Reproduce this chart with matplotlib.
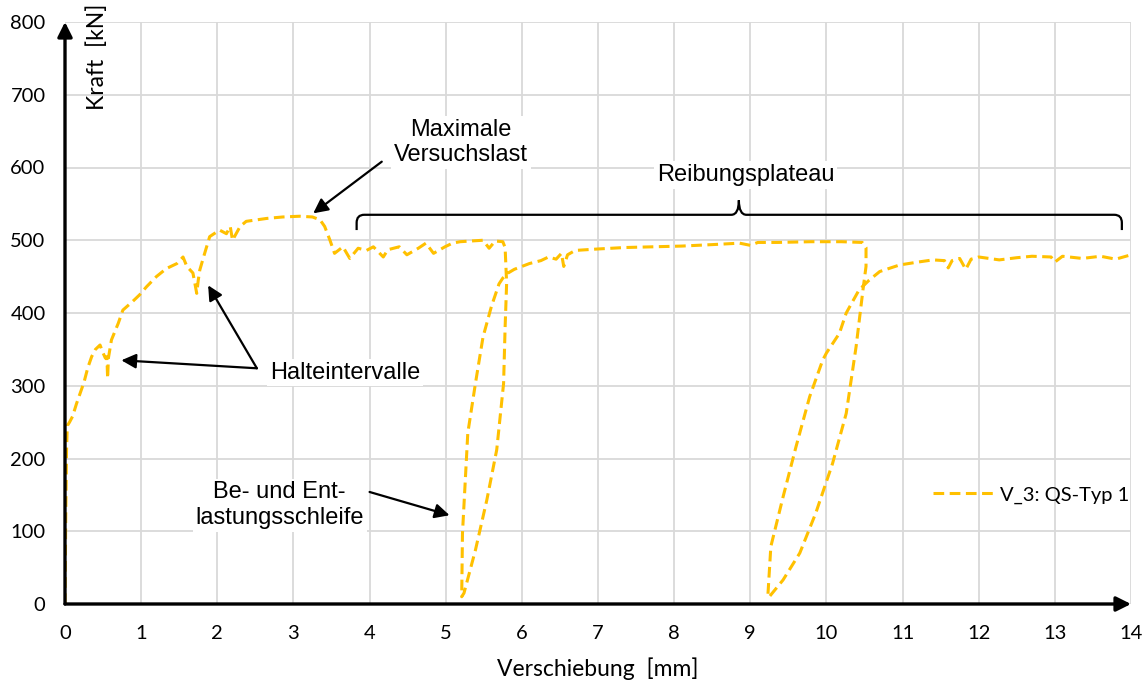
import matplotlib
matplotlib.use("Agg")
import matplotlib.pyplot as plt
from matplotlib.path import Path
from matplotlib.patches import PathPatch

# V_3: QS-Typ 1, split into test phases
anstieg_x = [0.00, 0.01, 0.02, 0.03, 0.06, 0.10, 0.15, 0.20, 0.25, 0.30, 0.35, 0.40, 0.46,
             0.50, 0.53, 0.55, 0.56, 0.57, 0.61, 0.70, 0.76, 0.89, 0.98, 1.07, 1.20, 1.33,
             1.47, 1.55, 1.60, 1.68, 1.73, 1.75, 1.77, 1.82, 1.90, 2.03, 2.12, 2.17, 2.20,
             2.30, 2.38, 2.52, 2.65, 2.86, 3.08, 3.25, 3.35, 3.41, 3.48]
anstieg_y = [0, 120, 210, 245, 250, 258, 275, 290, 305, 325, 340, 350, 356,
             345, 338, 340, 310, 338, 363, 386, 404, 416, 425, 436, 450, 461,
             468, 477, 464, 455, 427, 445, 459, 477, 505, 514, 509, 519, 500,
             519, 526, 528, 530, 532, 533, 532, 528, 519, 500]

plateau1_x = [3.54, 3.65, 3.74, 3.85, 3.96, 4.05, 4.18, 4.24, 4.39, 4.49, 4.64, 4.74, 4.84,
              4.99, 5.09, 5.19, 5.34, 5.49, 5.57, 5.65, 5.75]
plateau1_y = [482, 491, 475, 489, 486, 491, 477, 487, 491, 480, 489, 496, 482,
              491, 496, 498, 499, 500, 489, 499, 498]

schleife1_x = [5.78, 5.80, 5.78, 5.76, 5.67, 5.54, 5.39, 5.24, 5.21,
               5.22, 5.29, 5.39, 5.49, 5.60, 5.70, 5.75, 5.82]
schleife1_y = [490, 441, 380, 303, 212, 143, 74, 15, 10,
               97, 235, 303, 367, 409, 440, 448, 455]

plateau2_x = [5.90, 6.10, 6.25, 6.35, 6.45, 6.52, 6.55, 6.60, 6.70, 6.85, 7.00, 7.35, 7.70,
              8.10, 8.50, 8.86, 9.00, 9.10, 9.36, 9.80, 10.20, 10.47, 10.52]
plateau2_y = [460, 468, 472, 477, 474, 482, 464, 480, 486, 487, 488, 490, 491,
              492, 494, 496, 493, 497, 497, 498, 498, 497, 490]

schleife2_x = [10.52, 10.48, 10.39, 10.26, 10.08, 9.86, 9.65, 9.43, 9.25,
               9.23, 9.27, 9.43, 9.60, 9.78, 9.95, 10.00, 10.17, 10.26, 10.43, 10.56]
schleife2_y = [464, 432, 354, 262, 193, 125, 70, 33, 10,
               10, 79, 147, 216, 285, 335, 345, 372, 400, 432, 445]

plateau3_x = [10.70, 10.96, 11.20, 11.40, 11.55, 11.60, 11.65, 11.75, 11.83, 11.90, 12.00,
              12.27, 12.50, 12.70, 12.95, 13.00, 13.10, 13.36, 13.60, 13.80, 14.00]
plateau3_y = [457, 466, 470, 473, 472, 462, 472, 475, 460, 474, 477,
              473, 476, 478, 477, 470, 478, 475, 478, 474, 480]

x_ticks = list(range(0, 15))
y_ticks = list(range(0, 801, 100))

verschiebung = anstieg_x + plateau1_x + schleife1_x + plateau2_x + schleife2_x + plateau3_x
kraft = anstieg_y + plateau1_y + schleife1_y + plateau2_y + schleife2_y + plateau3_y

W, H = 1147, 680
fig = plt.figure(figsize=(W / 100, H / 100), dpi=100)
ax = fig.add_axes([65 / W, 1 - 604 / H, (1131 - 65) / W, (604 - 22) / H])

tick_font = "Lato"
note_font = "Liberation Sans"

ax.set_xlim(0, 14)
ax.set_ylim(0, 800)
ax.set_xticks(x_ticks)
ax.set_yticks(y_ticks)
ax.grid(True, color="#d9d9d9", lw=1.3)
ax.set_axisbelow(True)
for s in ax.spines.values():
    s.set_visible(False)
ax.tick_params(length=0, labelsize=14.5)
ax.tick_params(axis="x", pad=15)
ax.tick_params(axis="y", pad=14)
for lab in ax.get_xticklabels() + ax.get_yticklabels():
    lab.set_fontfamily(tick_font)

# the curve
ax.plot(verschiebung, kraft, color="#FFC000", lw=2.2, dashes=(3.5, 1.8),
        label="V_3: QS-Typ 1", zorder=3)

# axis arrows
arrow_kw = dict(arrowstyle="-|>", lw=2.4, color="black", mutation_scale=22,
                shrinkA=0, shrinkB=0)
ax.annotate("", xy=(14, 0), xytext=(0, 0), arrowprops=arrow_kw,
            annotation_clip=False, zorder=5)
ax.annotate("", xy=(0, 800), xytext=(0, 0), arrowprops=arrow_kw,
            annotation_clip=False, zorder=5)

fig.text(97 / W, 1 - 57 / H, "Kraft  [kN]", rotation=90, ha="center", va="center",
         fontsize=16.5, family=tick_font)
fig.text(598 / W, 1 - 669 / H, "Verschiebung  [mm]", ha="center", va="center",
         fontsize=16.5, family=tick_font)

leg = ax.legend(loc="center right", bbox_to_anchor=(1129 / W, 1 - 495 / H),
                bbox_transform=fig.transFigure, frameon=False, handlelength=3.0,
                handletextpad=0.3, borderpad=0, borderaxespad=0,
                prop={"family": tick_font, "size": 14.5})

# annotations
box = dict(facecolor="white", edgecolor="none", pad=2)
note = dict(fontsize=17, family=note_font, color="black", zorder=6)
pointer = dict(arrowstyle="-|>", lw=1.6, color="black", mutation_scale=22,
               shrinkA=0, shrinkB=0)

ax.text(5.20, 634, "Maximale\nVersuchslast", ha="center", va="center",
        multialignment="center", bbox=box, **note)
ax.annotate("", xy=(3.26, 537), xytext=(4.16, 608), arrowprops=pointer, zorder=6)

ax.text(8.94, 590, "Reibungsplateau", ha="center", va="center", bbox=box, **note)

ax.text(2.69, 318, "Halteintervalle", ha="left", va="center", bbox=box, **note)
ax.annotate("", xy=(0.74, 335), xytext=(2.52, 324), arrowprops=pointer, zorder=6)
ax.annotate("", xy=(1.88, 438), xytext=(2.52, 324), arrowprops=pointer, zorder=6)

ax.text(2.82, 136, "Be- und Ent-\nlastungsschleife", ha="center", va="center",
        multialignment="center", bbox=box, **note)
ax.annotate("", xy=(5.05, 122), xytext=(4.00, 154), arrowprops=pointer, zorder=6)

# curly brace over the friction plateau
bx0, bxm, bx1 = 3.83, 8.85, 13.88
by_end, by_line, by_tip = 514, 535, 555
rx, ry = 0.1, 11
verts = [(bx0, by_end), (bx0, by_line - ry), (bx0, by_line), (bx0 + rx, by_line),
         (bxm - rx, by_line), (bxm, by_line), (bxm, by_tip),
         (bxm, by_line), (bxm + rx, by_line),
         (bx1 - rx, by_line), (bx1, by_line), (bx1, by_line - ry), (bx1, by_end)]
codes = [Path.MOVETO, Path.LINETO, Path.CURVE3, Path.CURVE3,
         Path.LINETO, Path.CURVE3, Path.CURVE3,
         Path.CURVE3, Path.CURVE3,
         Path.LINETO, Path.CURVE3, Path.CURVE3, Path.LINETO]
ax.add_patch(PathPatch(Path(verts, codes), facecolor="none", edgecolor="black",
                       lw=1.6, zorder=6, clip_on=False))

fig.savefig("out.png", dpi=100)
